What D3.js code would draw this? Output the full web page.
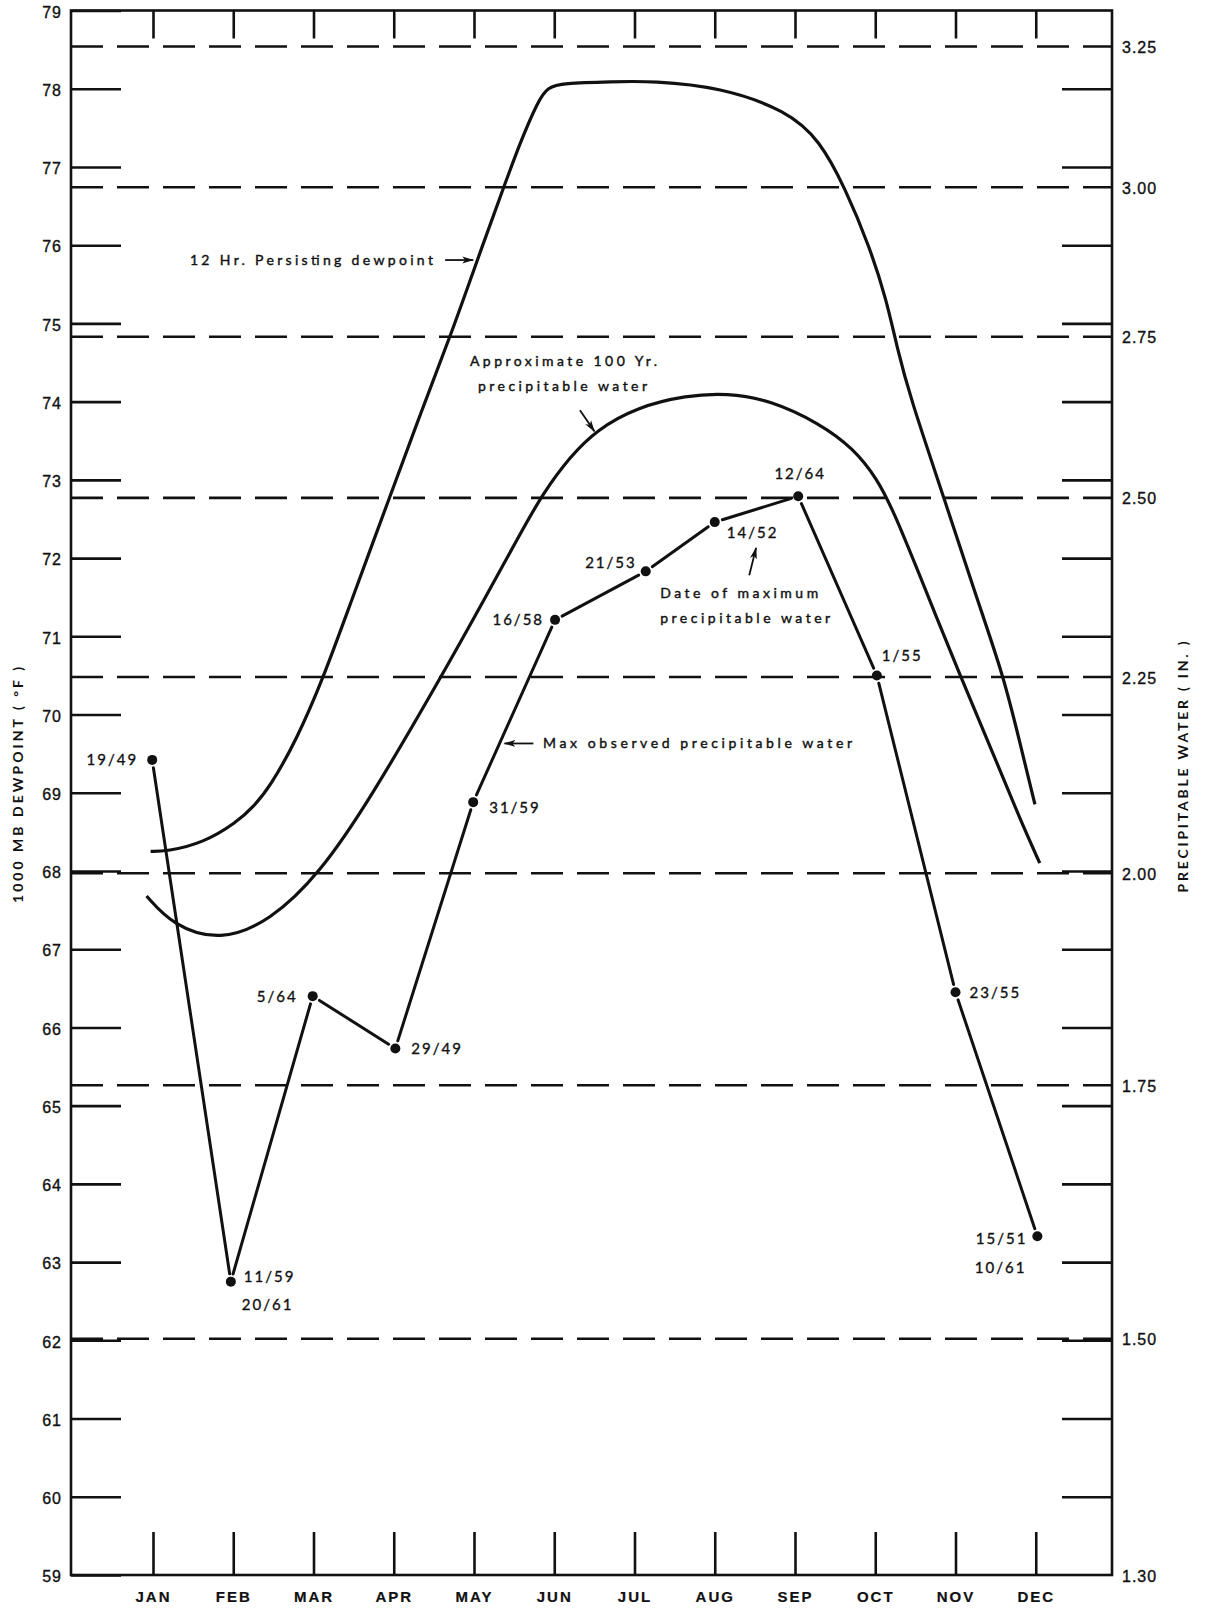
<!DOCTYPE html>
<html lang="en">
<head>
<meta charset="UTF-8">
<title>Dewpoint and precipitable water by month</title>
<script src="https://d3js.org/d3.v7.min.js"></script>
<style>
  body { margin: 0; background: #fff; }
  svg { display: block; font-family: Lato, "DejaVu Sans", sans-serif; }
  .frame { fill: none; stroke: #111; stroke-width: 2.6; }
  .axis line { stroke: #111; stroke-width: 2.6; }
  .axis path.domain { display: none; }
  .axis text { fill: #111; stroke: #111; stroke-width: 0.35; font-size: 16px; letter-spacing: 1px; }
  .months text { font-size: 15px; font-weight: bold; letter-spacing: 2px; stroke-width: 0.2; }
  .dash { fill: none; stroke: #111; stroke-width: 2.6; stroke-dasharray: 32 14; }
  .curve { fill: none; stroke: #111; stroke-width: 3.2; }
  .obs { stroke: #111; stroke-width: 3; stroke-linecap: round; }
  .date { font-size: 15px; letter-spacing: 2px; fill: #111; stroke: #111; stroke-width: 0.35; }
  .note { font-size: 14px; fill: #111; stroke: #111; stroke-width: 0.4; }
  .title { font-size: 14px; font-weight: bold; fill: #111; }
  .arrow { stroke: #111; stroke-width: 1.8; fill: none; }
</style>
</head>
<body>
<script>
// months on the x axis (index 0 = JAN)
const months = ["JAN", "FEB", "MAR", "APR", "MAY", "JUN", "JUL", "AUG", "SEP", "OCT", "NOV", "DEC"];

// left axis: 1000 mb dewpoint (F)
const dewTicks = [59, 60, 61, 62, 63, 64, 65, 66, 67, 68, 69, 70, 71, 72, 73, 74, 75, 76, 77, 78, 79];

// right axis: precipitable water (in.) and the dewpoint it matches
const pwTicks = [1.30, 1.50, 1.75, 2.00, 2.25, 2.50, 2.75, 3.00, 3.25];
const pwLabels = ["1.30", "1.50", "1.75", "2.00", "2.25", "2.50", "2.75", "3.00", "3.25"];
const pwDewpoint = [59.0, 62.02, 65.26, 67.97, 70.48, 72.77, 74.83, 76.74, 78.54];

// 12 hr persisting dewpoint curve
const persistMonth = [-0.03, 0.17, 0.63, 1.04, 1.25, 1.46, 1.79, 2.12, 2.46, 2.95, 3.33, 3.74, 4.03, 4.37, 4.57,
  4.80, 4.92, 5.1, 5.72, 6.23, 7.07, 7.9, 8.31, 8.62, 8.93, 9.14, 9.27, 9.43, 9.85, 10.26, 10.6, 10.8, 10.99];
const persistDew = [68.25, 68.25, 68.36, 68.62, 68.82, 69.08, 69.68, 70.46, 71.42, 72.78, 73.84, 74.93, 75.78, 76.74, 77.30,
  77.85, 78.02, 78.07, 78.09, 78.10, 78.02, 77.72, 77.34, 76.74, 75.98, 75.30, 74.70, 74.07, 72.79, 71.50, 70.49, 69.65, 68.85];

// approximate 100 yr precipitable water curve
const hundredYrMonth = [-0.08, 0.25, 0.84, 1.46, 2.08, 2.7, 3.58, 4.16, 4.57, 4.86, 5.2, 5.53, 6.03, 6.65,
  7.15, 7.69, 8.31, 8.73, 9.02, 9.23, 9.64, 10.06, 10.47, 10.8, 11.05];
const hundredYrDew = [67.68, 67.30, 67.10, 67.36, 67.97, 68.91, 70.46, 71.53, 72.30, 72.83, 73.30, 73.64, 73.93, 74.08,
  74.11, 74.02, 73.72, 73.40, 73.02, 72.60, 71.56, 70.49, 69.50, 68.67, 68.10];

// max observed precipitable water (as dewpoint) and dates
const maxObsMonth = [-0.01, 0.97, 1.99, 3.02, 3.99, 5.01, 6.14, 7.0, 8.04, 9.02, 10.0, 11.02];
const maxObsDew = [69.42, 62.75, 66.40, 65.73, 68.88, 71.21, 71.83, 72.46, 72.79, 70.50, 66.45, 63.33];
const maxObsDates = [["19/49"], ["11/59", "20/61"], ["5/64"], ["29/49"], ["31/59"], ["16/58"],
  ["21/53"], ["14/52"], ["12/64"], ["1/55"], ["23/55"], ["15/51", "10/61"]];

// where each date label sits next to its dot: [dx, dy, anchor] per line
const dateOffsets = [
  [[-14, 0, "end"]],
  [[13, -5, "start"], [11, 23, "start"]],
  [[-15, 0, "end"]],
  [[16, 0, "start"]],
  [[16, 5, "start"]],
  [[-11, 0, "end"]],
  [[-9, -9, "end"]],
  [[12, 11, "start"]],
  [[2, -23, "middle"]],
  [[5, -20, "start"]],
  [[14, 0, "start"]],
  [[-10, 2, "end"], [-11, 31, "end"]]
];

const width = 1207, height = 1609;
const left = 71, right = 1112;

const x = d3.scaleLinear().domain([0, 11]).range([153, 1035.75]);
const y = d3.scaleLinear().domain([59, 79]).range([1575, 10.5]);
const pw = d3.scaleLinear().domain(pwTicks).range(pwDewpoint.map(d => y(d)));

const svg = d3.select("body").append("svg")
  .attr("width", width)
  .attr("height", height);

svg.append("defs").append("marker")
  .attr("id", "head")
  .attr("viewBox", "0 0 12 8")
  .attr("refX", 11).attr("refY", 4)
  .attr("markerWidth", 12).attr("markerHeight", 8)
  .attr("markerUnits", "userSpaceOnUse")
  .attr("orient", "auto")
  .append("path")
  .attr("d", "M0,0.5 L12,4 L0,7.5 L3,4 Z")
  .attr("fill", "#111");

// dashed precipitable water lines
svg.selectAll(".dash")
  .data(pwTicks.filter(v => v > 1.3))
  .enter().append("line")
  .attr("class", "dash")
  .attr("x1", left).attr("x2", right)
  .attr("y1", d => pw(d)).attr("y2", d => pw(d));

// frame
svg.append("rect")
  .attr("class", "frame")
  .attr("x", left).attr("y", y(79))
  .attr("width", right - left).attr("height", y(59) - y(79));

// left axis with ticks pointing inward
const leftAxis = svg.append("g")
  .attr("class", "axis")
  .attr("transform", `translate(${left},0)`)
  .call(d3.axisLeft(y).tickValues(dewTicks).tickSizeInner(-50).tickSizeOuter(0).tickPadding(9));
leftAxis.selectAll("text").attr("dy", "0.42em");

// right axis ticks (same dewpoint spacing), pointing inward
svg.append("g")
  .attr("class", "axis")
  .attr("transform", `translate(${right},0)`)
  .call(d3.axisLeft(y).tickValues(dewTicks.slice(1, -1)).tickSize(50).tickFormat(""));

// right axis labels in precipitable water
const pwAxis = svg.append("g")
  .attr("class", "axis")
  .attr("transform", `translate(${right},0)`)
  .call(d3.axisRight(pw).tickValues(pwTicks).tickSize(0).tickPadding(10)
    .tickFormat((d, i) => pwLabels[i]));
pwAxis.selectAll("text").attr("dy", "0.38em");

// month ticks hanging from the top and standing on the bottom
svg.append("g")
  .attr("class", "axis")
  .attr("transform", `translate(0,${y(79)})`)
  .call(d3.axisBottom(x).tickValues(d3.range(months.length)).tickSize(28).tickFormat(""));
svg.append("g")
  .attr("class", "axis")
  .attr("transform", `translate(0,${y(59)})`)
  .call(d3.axisTop(x).tickValues(d3.range(months.length)).tickSize(43).tickFormat(""));
svg.append("g")
  .attr("class", "axis months")
  .attr("transform", `translate(0,${y(59)})`)
  .call(d3.axisBottom(x).tickValues(d3.range(months.length)).tickSize(0).tickPadding(16)
    .tickFormat(i => months[i]));

// the two smooth curves
const curveLine = d3.line()
  .x(d => x(d[0]))
  .y(d => y(d[1]))
  .curve(d3.curveBasis);

svg.append("path")
  .attr("class", "curve")
  .attr("d", curveLine(d3.zip(persistMonth, persistDew)));

svg.append("path")
  .attr("class", "curve")
  .attr("d", curveLine(d3.zip(hundredYrMonth, hundredYrDew)));

// max observed: segments stop a little short of the dots
const obsPts = d3.zip(maxObsMonth, maxObsDew).map(d => [x(d[0]), y(d[1])]);
const gap = 8;
svg.selectAll(".obs")
  .data(d3.pairs(obsPts))
  .enter().append("line")
  .attr("class", "obs")
  .each(function([a, b]) {
    const len = Math.hypot(b[0] - a[0], b[1] - a[1]);
    const ux = (b[0] - a[0]) / len, uy = (b[1] - a[1]) / len;
    d3.select(this)
      .attr("x1", a[0] + ux * gap).attr("y1", a[1] + uy * gap)
      .attr("x2", b[0] - ux * gap).attr("y2", b[1] - uy * gap);
  });

svg.selectAll(".dot")
  .data(obsPts)
  .enter().append("circle")
  .attr("class", "dot")
  .attr("cx", d => d[0]).attr("cy", d => d[1])
  .attr("r", 5)
  .attr("fill", "#111");

// date labels
obsPts.forEach((p, i) => {
  maxObsDates[i].forEach((txt, j) => {
    const [dx, dy, anchor] = dateOffsets[i][j];
    svg.append("text")
      .attr("class", "date")
      .attr("x", p[0] + dx)
      .attr("y", p[1] + dy)
      .attr("dy", "0.36em")
      .attr("text-anchor", anchor)
      .text(txt);
  });
});

// annotations, placed in chart units
function note(m, d, txt, len) {
  svg.append("text")
    .attr("class", "note")
    .attr("x", x(m)).attr("y", y(d))
    .attr("textLength", len)
    .attr("lengthAdjust", "spacing")
    .text(txt);
}
function arrow(m1, d1, m2, d2) {
  svg.append("line")
    .attr("class", "arrow")
    .attr("x1", x(m1)).attr("y1", y(d1))
    .attr("x2", x(m2)).attr("y2", y(d2))
    .attr("marker-end", "url(#head)");
}

note(0.46, 75.75, "12 Hr. Persisting dewpoint", 243);
arrow(3.64, 75.81, 3.99, 75.81);

note(3.95, 74.46, "Approximate 100 Yr.", 187);
note(4.05, 74.14, "precipitable water", 169);
arrow(5.32, 73.89, 5.5, 73.62);

note(6.32, 71.49, "Date of maximum", 158);
note(6.32, 71.17, "precipitable water", 170);
arrow(7.43, 71.78, 7.515, 72.13);

arrow(4.74, 69.63, 4.38, 69.63);
note(4.86, 69.57, "Max observed precipitable water", 309);

// axis titles
svg.append("text")
  .attr("class", "title")
  .attr("transform", `translate(23,785) rotate(-90)`)
  .attr("text-anchor", "middle")
  .attr("textLength", 236)
  .attr("lengthAdjust", "spacing")
  .text("1000 MB DEWPOINT ( °F )");

svg.append("text")
  .attr("class", "title")
  .attr("transform", `translate(1188,767) rotate(-90)`)
  .attr("text-anchor", "middle")
  .attr("textLength", 251)
  .attr("lengthAdjust", "spacing")
  .text("PRECIPITABLE WATER ( IN. )");
</script>
</body>
</html>
